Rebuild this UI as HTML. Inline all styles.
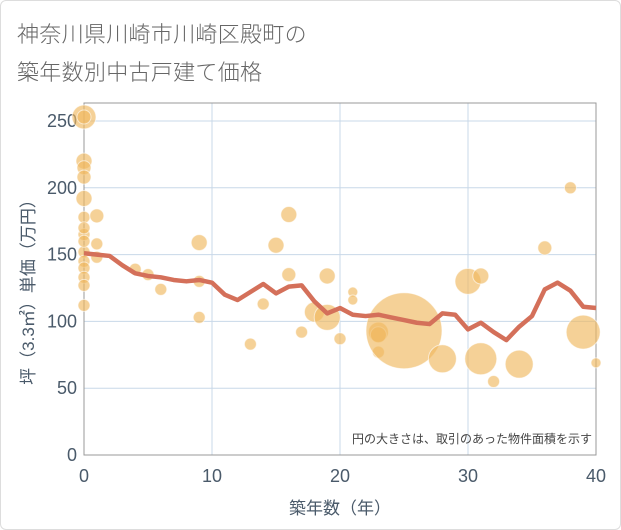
<!DOCTYPE html>
<html><head><meta charset="utf-8"><style>
body{margin:0;background:#fff;font-family:"Liberation Sans","Noto Sans CJK JP",sans-serif;}
#wrap{position:relative;width:619px;height:528px;border:1px solid #ddd;border-radius:6px;overflow:hidden;}
.title{position:absolute;left:16px;color:#666;font-size:22px;letter-spacing:0.3px;font-weight:300;}
</style></head><body>
<div id="wrap">
<div class="title" style="top:16px">神奈川県川崎市川崎区殿町の</div>
<div class="title" style="top:54px">築年数別中古戸建て価格</div>
<svg id="chart" width="621" height="530" style="position:absolute;left:-1px;top:-1px"></svg>
</div>
<script>
const xTicks=[0,10,20,30,40];
const yTicks=[0,50,100,150,200,250];
const lineAges=[0,1,2,3,4,5,6,7,8,9,10,11,12,13,14,15,16,17,18,19,20,21,22,23,24,25,26,27,28,29,30,31,32,33,34,35,36,37,38,39,40];
const lineValues=[151,150,149,142,136,134,133,131,130,131,129,120,116,122,128,121,126,127,115,106,110,105,104,105,103,101,99,98,106,105,94,99,92,86,96,104,124,129,123,111,110];
const bubbleAges=[0,0,0,0,0,0,0,0,0,0,0,0,0,0,0,0,1,1,1,4,5,6,9,9,9,13,14,15,16,16,17,18,19,19,20,21,21,23,23,23,25,28,30,31,31,32,34,36,38,39,40];
const bubbleValues=[253,220,215,208,192,178,165,152,145,140,133,127,112,253,170,160,179,158,148,139,135,124,159,130,103,83,113,157,180,135,92,107,134,103,87,122,116,92,77,90,93,72,130,134,72,55,68,155,200,92,69];
const bubbleSizes=[12,8,7,7,8,6,6,6,6,6,6,6,6,7,6,6,7,6,6,6,6,6,8,6,6,6,6,8,8,7,6,10,8,13,6,5,5,10,6,8,38,14,13,8,16,6,14,7,6,17,5];
const NS='http://www.w3.org/2000/svg';
const svg=document.getElementById('chart');
const L=84,R=596,T=103,B=455;
const xs=v=>L+(v-0)/(40-0)*(R-L);
const ys=v=>B-(v/250)*(455-121);
function mk(t,a){const e=document.createElementNS(NS,t);for(const k in a)e.setAttribute(k,a[k]);svg.appendChild(e);return e;}
for(const t of yTicks){const g=mk('line',{x1:L,x2:R,y1:ys(t),y2:ys(t),stroke:'#c8d8e8','stroke-width':1});


const tx=mk('text',{x:L-7,y:ys(t)+6,'text-anchor':'end','font-size':18,fill:'#4a5a6a'});tx.textContent=t;

}
for(const t of xTicks){const g=mk('line',{x1:xs(t),x2:xs(t),y1:T,y2:B,stroke:'#c8d8e8','stroke-width':1});


const tx=mk('text',{x:xs(t),y:B+27,'text-anchor':'middle','font-size':18,fill:'#4a5a6a'});tx.textContent=t;

}
const fr=mk('rect',{x:L,y:T,width:R-L,height:B-T,fill:'none',stroke:'#999','stroke-width':1});


bubbleAges.forEach((a,i)=>{const c=mk('circle',{cx:xs(a),cy:ys(bubbleValues[i]),r:bubbleSizes[i],fill:'rgba(240,185,95,0.65)',stroke:'rgba(255,255,255,0.6)','stroke-width':1});

});
const d=lineAges.map((a,i)=>(i?'L':'M')+xs(a)+','+ys(lineValues[i])).join(' ');
const p=mk('path',{d:d,fill:'none',stroke:'#d4705a','stroke-width':4.5,'stroke-linejoin':'round'});


const note=mk('text',{x:592,y:443,'text-anchor':'end','font-size':12,fill:'#444'});note.textContent='円の大きさは、取引のあった物件面積を示す';


const xt=mk('text',{x:340,y:514,'text-anchor':'middle','font-size':17,fill:'#4a5a6a'});xt.textContent='築年数（年）';


const yt=mk('text',{x:0,y:0,'text-anchor':'middle','font-size':17,fill:'#4a5a6a',transform:'translate(34,288) rotate(-90)'});yt.textContent='坪（3.3㎡）単価（万円）';


</script>
</body></html>
